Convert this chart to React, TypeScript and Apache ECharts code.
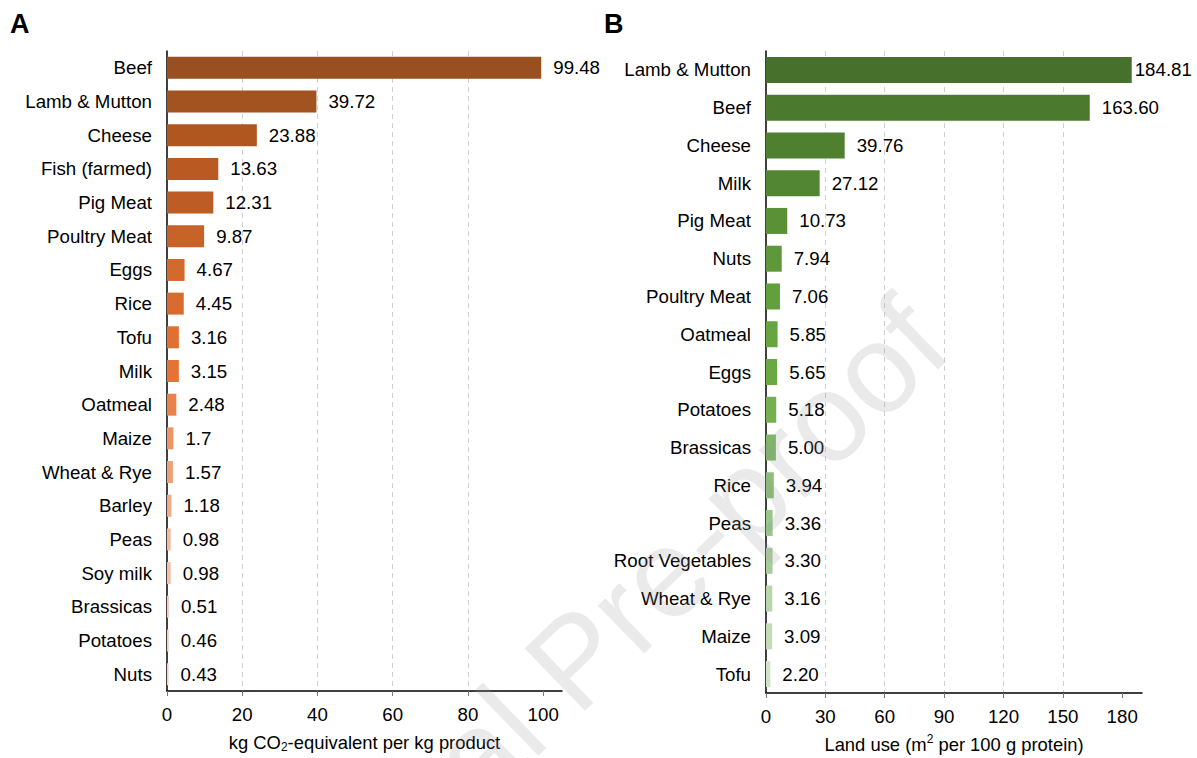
import React, { useEffect, useRef } from 'react';
import * as echarts from 'echarts';

const catsA = ['Beef', 'Lamb & Mutton', 'Cheese', 'Fish (farmed)', 'Pig Meat', 'Poultry Meat', 'Eggs', 'Rice', 'Tofu', 'Milk', 'Oatmeal', 'Maize', 'Wheat & Rye', 'Barley', 'Peas', 'Soy milk', 'Brassicas', 'Potatoes', 'Nuts'];
const valsA = [99.48, 39.72, 23.88, 13.63, 12.31, 9.87, 4.67, 4.45, 3.16, 3.15, 2.48, 1.7, 1.57, 1.18, 0.98, 0.98, 0.51, 0.46, 0.43];
const colorsA = ['#994f20', '#a3531f', '#b0561f', '#b85a22', '#bd5c24', '#c76229', '#d4692c', '#d96b2e', '#e07032', '#e47434', '#e9834a', '#ec9567', '#eea079', '#f0ab89', '#f2b99e', '#f3bfa6', '#f5c8b3', '#f6ccb8', '#f7d1be'];
const ticksA = [0, 20, 40, 60, 80, 100];

const catsB = ['Lamb & Mutton', 'Beef', 'Cheese', 'Milk', 'Pig Meat', 'Nuts', 'Poultry Meat', 'Oatmeal', 'Eggs', 'Potatoes', 'Brassicas', 'Rice', 'Peas', 'Root Vegetables', 'Wheat & Rye', 'Maize', 'Tofu'];
const valsB = [184.81, 163.6, 39.76, 27.12, 10.73, 7.94, 7.06, 5.85, 5.65, 5.18, 5.0, 3.94, 3.36, 3.3, 3.16, 3.09, 2.2];
const colorsB = ['#46702b', '#4b7a2e', '#4f8030', '#538633', '#5a9137', '#5e983a', '#62a03d', '#66a53f', '#69a942', '#74b050', '#7fb667', '#8cbd79', '#9ac68a', '#a9cd9a', '#b7d6aa', '#c3dcb8', '#cfe3c6'];
const ticksB = [0, 30, 60, 90, 120, 150, 180];

const FONT = '"Liberation Sans", Arial, Helvetica, sans-serif';
const FS = 18.7;

export default function App() {
  const ref = useRef<HTMLDivElement>(null);
  useEffect(() => {
    document.body.style.margin = '0';
    if (!ref.current) return;
    const chart = echarts.init(ref.current, undefined, { renderer: 'svg' });

    const xAxisBase = (min: number, max: number, interval: number, ticks: number[], name: string, gridIndex: number) => ({
      type: 'value',
      gridIndex,
      min,
      max,
      interval,
      name,
      nameLocation: 'middle',
      nameGap: 40,
      nameTextStyle: {
        color: '#000',
        fontSize: 18.4,
        fontFamily: FONT,
        rich: {
          a: { fontSize: 18.4, fontFamily: FONT, color: '#000', lineHeight: 22 },
          s: { fontSize: 12, fontFamily: FONT, color: '#000', verticalAlign: 'bottom', lineHeight: 14 },
          u: { fontSize: 12, fontFamily: FONT, color: '#000', verticalAlign: 'top', lineHeight: 14 },
        },
      },
      axisLine: { show: true, onZero: false, lineStyle: { color: '#000', width: 1.5 } },
      axisTick: { show: true, length: 5, customValues: ticks, lineStyle: { color: '#777' } },
      axisLabel: { color: '#000', fontSize: FS, fontFamily: FONT, margin: 14, customValues: ticks },
      splitLine: { show: true, showMinLine: false, showMaxLine: false, lineStyle: { color: '#cfcfcf', type: [5, 4], width: 1 } },
    });

    const yAxisBase = (cats: string[], gridIndex: number) => ({
      type: 'category',
      gridIndex,
      data: cats,
      inverse: true,
      axisLine: { show: true, lineStyle: { color: '#000', width: 1.5 } },
      axisTick: { show: false },
      axisLabel: { color: '#000', fontSize: FS, fontFamily: FONT, margin: 15 },
    });

    const option = {
      animation: false,
      backgroundColor: '#fff',
      grid: [
        { left: 167, top: 51, width: 395, bottom: 62 },
        { left: 766, top: 51, width: 376, bottom: 62 },
      ],
      xAxis: [
        xAxisBase(0, 105, 20, ticksA, '{a|kg CO}{s|2}{a|-equivalent per kg product}', 0),
        xAxisBase(0, 190, 30, ticksB, '{a|Land use (m}{u|2}{a| per 100 g protein)}', 1),
      ],
      yAxis: [yAxisBase(catsA, 0), yAxisBase(catsB, 1)],
      series: [
        {
          type: 'bar',
          xAxisIndex: 0,
          yAxisIndex: 0,
          barWidth: 22,
          data: valsA.map((v, i) => ({ value: v, itemStyle: { color: colorsA[i] } })),
          label: {
            show: true,
            position: 'right',
            distance: 12,
            color: '#000',
            fontSize: FS,
            fontFamily: FONT,
            formatter: (p: any) => String(p.value),
          },
        },
        {
          type: 'bar',
          xAxisIndex: 1,
          yAxisIndex: 1,
          barWidth: 26,
          data: valsB.map((v, i) => ({
            value: v,
            itemStyle: { color: colorsB[i] },
            label: i === 0 ? { distance: 3 } : undefined,
          })),
          label: {
            show: true,
            position: 'right',
            distance: 12,
            color: '#000',
            fontSize: FS,
            fontFamily: FONT,
            formatter: (p: any) => Number(p.value).toFixed(2),
          },
        },
      ],
      graphic: [
        {
          type: 'text',
          left: 10,
          top: 10,
          style: { text: 'A', fontSize: 27, fontWeight: 'bold', fontFamily: FONT, fill: '#000' },
        },
        {
          type: 'text',
          left: 604,
          top: 10,
          style: { text: 'B', fontSize: 27, fontWeight: 'bold', fontFamily: FONT, fill: '#000' },
        },
        {
          type: 'text',
          x: 575,
          y: 660,
          rotation: (44 * Math.PI) / 180,
          z: 100,
          silent: true,
          style: {
            text: 'Journal Pre-proof',
            fontSize: 126,
            fontFamily: FONT,
            fill: 'rgba(150,150,150,0.2)',
            align: 'center',
            verticalAlign: 'middle',
          },
        },
      ],
    };

    chart.setOption(option as any);
    return () => chart.dispose();
  }, []);

  return <div ref={ref} style={{ width: 1197, height: 758 }} />;
}
